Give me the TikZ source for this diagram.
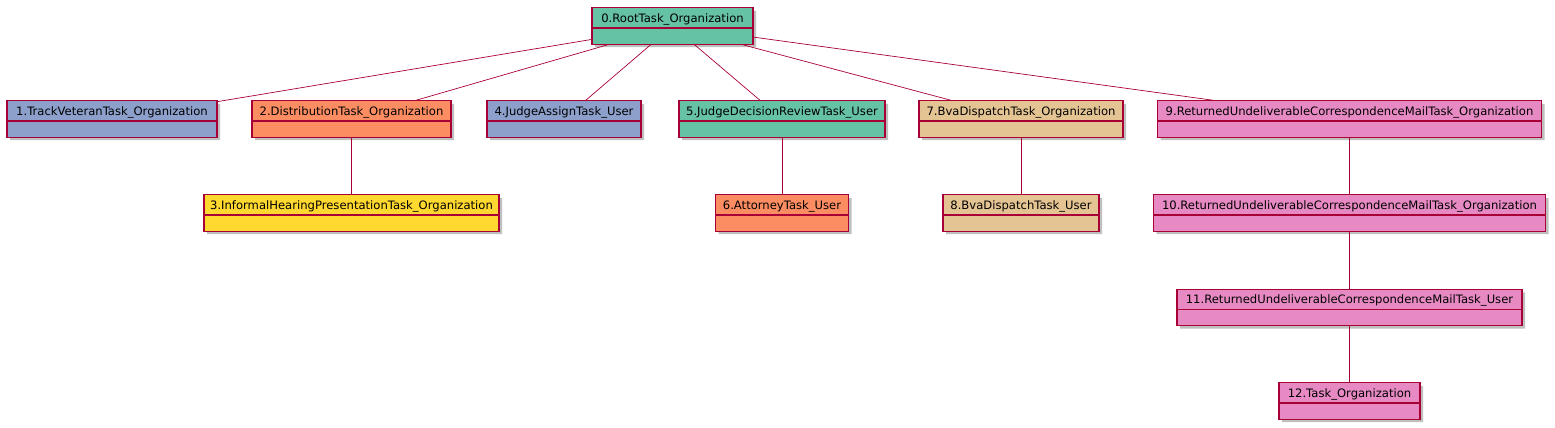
\documentclass[tikz,border=0pt]{standalone}
\usepackage{fontspec}
\setmainfont{DejaVu Sans}
\usetikzlibrary{shapes.multipart, shadows}

\definecolor{umlred}{HTML}{A80036}
\definecolor{taskgreen}{HTML}{66C2A5}
\definecolor{taskblue}{HTML}{8DA0CB}
\definecolor{taskorange}{HTML}{FC8D62}
\definecolor{taskyellow}{HTML}{FFD92F}
\definecolor{tasktan}{HTML}{E5C494}
\definecolor{taskpink}{HTML}{E78AC3}

\newcommand{\hdr}[1]{\rule[-5pt]{0pt}{19pt}#1}
\newcommand{\lowpart}{\nodepart{two}\rule{0pt}{15pt}}

\tikzset{
	taskbox/.style={rectangle split, rectangle split parts=2, draw=umlred, line width=1.1pt,
		fill=#1, inner xsep=0pt, inner ysep=0pt, align=center,
		font=\fontsize{11.6}{14}\selectfont,
		drop shadow={shadow xshift=3pt, shadow yshift=-3pt, fill=black, opacity=0.25}},
	edge/.style={draw=umlred, line width=0.7pt}
}

\begin{document}
\begin{tikzpicture}[x=1pt, y=-1pt]
			\useasboundingbox (0,0) rectangle (1555,428);
			
			\node[taskbox=taskgreen, text width=161pt] (t0) at (672.5,26) {\hdr{0.RootTask\_Organization}\lowpart};
			
			\node[taskbox=taskblue, text width=210pt] (t1) at (112,119) {\hdr{1.TrackVeteranTask\_Organization}\lowpart};
			\node[taskbox=taskorange, text width=199pt] (t2) at (351.5,119) {\hdr{2.DistributionTask\_Organization}\lowpart};
			\node[taskbox=taskblue, text width=154pt] (t4) at (564,119) {\hdr{4.JudgeAssignTask\_User}\lowpart};
			\node[taskbox=taskgreen, text width=206pt] (t5) at (782,119) {\hdr{5.JudgeDecisionReviewTask\_User}\lowpart};
			\node[taskbox=tasktan, text width=204pt] (t7) at (1021,119) {\hdr{7.BvaDispatchTask\_Organization}\lowpart};
			\node[taskbox=taskpink, text width=384pt] (t9) at (1349.5,119) {\hdr{9.ReturnedUndeliverableCorrespondenceMailTask\_Organization}\lowpart};
			
			\node[taskbox=taskyellow, text width=295pt] (t3) at (351.5,213) {\hdr{3.InformalHearingPresentationTask\_Organization}\lowpart};
			\node[taskbox=taskorange, text width=133pt] (t6) at (782,213) {\hdr{6.AttorneyTask\_User}\lowpart};
			\node[taskbox=tasktan, text width=156pt] (t8) at (1021,213) {\hdr{8.BvaDispatchTask\_User}\lowpart};
			\node[taskbox=taskpink, text width=392pt] (t10) at (1349.5,213) {\hdr{10.ReturnedUndeliverableCorrespondenceMailTask\_Organization}\lowpart};
			
			\node[taskbox=taskpink, text width=345pt] (t11) at (1349.5,307.5) {\hdr{11.ReturnedUndeliverableCorrespondenceMailTask\_User}\lowpart};
			\node[taskbox=taskpink, text width=141pt] (t12) at (1349.5,401) {\hdr{12.Task\_Organization}\lowpart};
			
			\foreach \c in {t1,t2,t4,t5,t7,t9} {\draw[edge] (t0) -- (\c);}
			\foreach \p/\c in {t2/t3,t5/t6,t7/t8,t9/t10,t10/t11,t11/t12} {\draw[edge] (\p) -- (\c);}
		\end{tikzpicture}
\end{document}
